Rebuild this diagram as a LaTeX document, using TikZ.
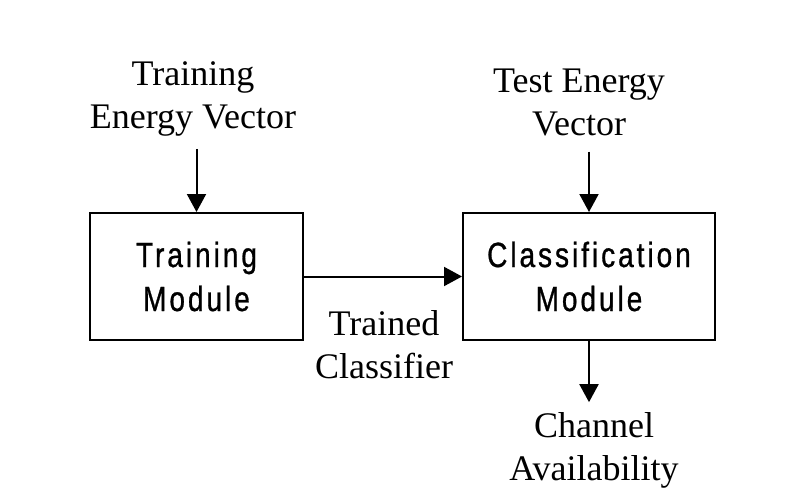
\documentclass[tikz,border=0pt]{standalone}
\usepackage{fontspec}
\setmainfont{Liberation Serif}
\newfontfamily\boxfont[FakeStretch=0.8,LetterSpace=8.5,FakeBold=0.8]{Liberation Sans}
\usetikzlibrary{positioning,arrows.meta}

\begin{document}
\begin{tikzpicture}[x=1pt,y=-1pt,>={Triangle[length=18pt,width=19pt]},
  module/.style={draw,line width=2pt,minimum height=127pt,align=center,font=\boxfont\fontsize{35}{44}\selectfont},
  label/.style={align=center,inner sep=0pt,font=\fontsize{36}{43.5}\selectfont},
  arr/.style={->,line width=2pt}]
\useasboundingbox (0,0) rectangle (806,492);
% blocks
\node[module,minimum width=213pt] (trn) at (196.5,276.5) {Training\\Module};
\node[module,minimum width=252pt] (cls) at (589,276.5) {Classification\\Module};
% signals
\node[label] (tev) at (193,99) {Training\\Energy Vector};
\node[label] (tst) at (579,102.5) {Test Energy\\Vector};
\node[label] (tcl) at (384,344.5) {Trained\\Classifier};
\node[label] (chn) at (594,450.5) {Channel\\Availability};
\draw[arr] ([yshift=-12pt]tev.south -| trn.north) -- (trn.north);
\draw[arr] ([yshift=-15pt]tst.south -| cls.north) -- (cls.north);
\draw[arr] (trn.east) -- (cls.west);
\draw[arr] (cls.south) -- ([yshift=10pt]chn.north -| cls.south);
\end{tikzpicture}
\end{document}
